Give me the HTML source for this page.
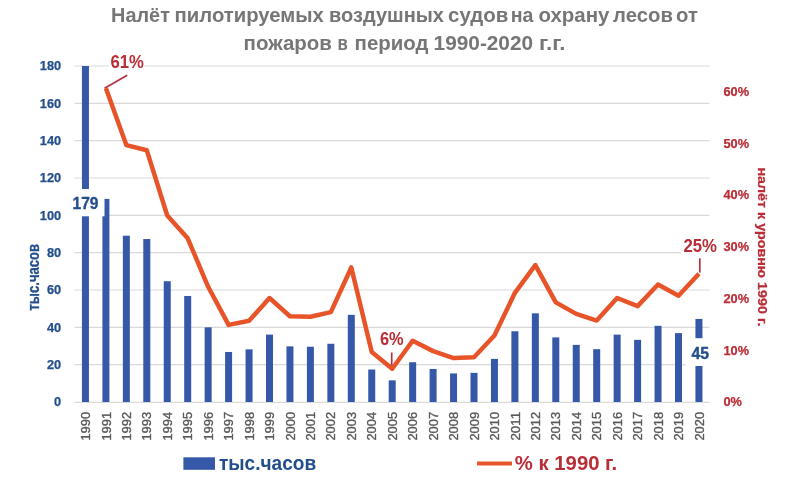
<!DOCTYPE html>
<html><head><meta charset="utf-8">
<style>
html,body{margin:0;padding:0;background:#fff;}
body{width:800px;height:486px;position:relative;overflow:hidden;font-family:"Liberation Sans",sans-serif;}
svg{position:absolute;left:0;top:0;filter:blur(0.4px);font-family:"Liberation Sans",sans-serif;}
</style></head><body>
<svg width="800" height="486" viewBox="0 0 800 486">
<text x="111.10" y="21.80" font-size="19.7" font-weight="bold" fill="#767676" text-anchor="start" textLength="58.80" lengthAdjust="spacingAndGlyphs">Налёт</text>
<text x="174.60" y="21.80" font-size="19.7" font-weight="bold" fill="#767676" text-anchor="start" textLength="149.30" lengthAdjust="spacingAndGlyphs">пилотируемых</text>
<text x="329.10" y="21.80" font-size="19.7" font-weight="bold" fill="#767676" text-anchor="start" textLength="114.80" lengthAdjust="spacingAndGlyphs">воздушных</text>
<text x="448.10" y="21.80" font-size="19.7" font-weight="bold" fill="#767676" text-anchor="start" textLength="60.30" lengthAdjust="spacingAndGlyphs">судов</text>
<text x="510.70" y="21.80" font-size="19.7" font-weight="bold" fill="#767676" text-anchor="start" textLength="22.70" lengthAdjust="spacingAndGlyphs">на</text>
<text x="538.40" y="21.80" font-size="19.7" font-weight="bold" fill="#767676" text-anchor="start" textLength="71.00" lengthAdjust="spacingAndGlyphs">охрану</text>
<text x="613.10" y="21.80" font-size="19.7" font-weight="bold" fill="#767676" text-anchor="start" textLength="59.80" lengthAdjust="spacingAndGlyphs">лесов</text>
<text x="676.10" y="21.80" font-size="19.7" font-weight="bold" fill="#767676" text-anchor="start" textLength="21.80" lengthAdjust="spacingAndGlyphs">от</text>
<text x="243.60" y="50.40" font-size="19.7" font-weight="bold" fill="#767676" text-anchor="start" textLength="88.30" lengthAdjust="spacingAndGlyphs">пожаров</text>
<text x="337.60" y="50.40" font-size="19.7" font-weight="bold" fill="#767676" text-anchor="start" textLength="10.30" lengthAdjust="spacingAndGlyphs">в</text>
<text x="354.60" y="50.40" font-size="19.7" font-weight="bold" fill="#767676" text-anchor="start" textLength="73.80" lengthAdjust="spacingAndGlyphs">период</text>
<text x="433.60" y="50.40" font-size="19.7" font-weight="bold" fill="#767676" text-anchor="start" textLength="99.50" lengthAdjust="spacingAndGlyphs">1990-2020</text>
<text x="538.90" y="50.40" font-size="19.7" font-weight="bold" fill="#767676" text-anchor="start" textLength="26.50" lengthAdjust="spacingAndGlyphs">г.г.</text>
<line x1="74.5" x2="709.5" y1="364.67" y2="364.67" stroke="#D9D9D9" stroke-width="1.2"/>
<line x1="74.5" x2="709.5" y1="327.33" y2="327.33" stroke="#D9D9D9" stroke-width="1.2"/>
<line x1="74.5" x2="709.5" y1="290.00" y2="290.00" stroke="#D9D9D9" stroke-width="1.2"/>
<line x1="74.5" x2="709.5" y1="252.67" y2="252.67" stroke="#D9D9D9" stroke-width="1.2"/>
<line x1="74.5" x2="709.5" y1="215.33" y2="215.33" stroke="#D9D9D9" stroke-width="1.2"/>
<line x1="74.5" x2="709.5" y1="178.00" y2="178.00" stroke="#D9D9D9" stroke-width="1.2"/>
<line x1="74.5" x2="709.5" y1="140.67" y2="140.67" stroke="#D9D9D9" stroke-width="1.2"/>
<line x1="74.5" x2="709.5" y1="103.33" y2="103.33" stroke="#D9D9D9" stroke-width="1.2"/>
<line x1="74.5" x2="709.5" y1="66.00" y2="66.00" stroke="#D9D9D9" stroke-width="1.2"/>
<line x1="74.5" x2="709.5" y1="402.30" y2="402.30" stroke="#D9D9D9" stroke-width="1.2"/>
<rect x="81.95" y="66.00" width="7.0" height="336.00" fill="#3558A8"/>
<rect x="102.40" y="198.91" width="7.0" height="203.09" fill="#3558A8"/>
<rect x="122.85" y="235.68" width="7.0" height="166.32" fill="#3558A8"/>
<rect x="143.30" y="239.04" width="7.0" height="162.96" fill="#3558A8"/>
<rect x="163.75" y="281.23" width="7.0" height="120.77" fill="#3558A8"/>
<rect x="184.20" y="295.97" width="7.0" height="106.03" fill="#3558A8"/>
<rect x="204.65" y="327.33" width="7.0" height="74.67" fill="#3558A8"/>
<rect x="225.10" y="351.97" width="7.0" height="50.03" fill="#3558A8"/>
<rect x="245.55" y="349.36" width="7.0" height="52.64" fill="#3558A8"/>
<rect x="266.00" y="334.61" width="7.0" height="67.39" fill="#3558A8"/>
<rect x="286.45" y="346.37" width="7.0" height="55.63" fill="#3558A8"/>
<rect x="306.90" y="346.75" width="7.0" height="55.25" fill="#3558A8"/>
<rect x="327.35" y="343.76" width="7.0" height="58.24" fill="#3558A8"/>
<rect x="347.80" y="314.83" width="7.0" height="87.17" fill="#3558A8"/>
<rect x="368.25" y="369.52" width="7.0" height="32.48" fill="#3558A8"/>
<rect x="388.70" y="380.35" width="7.0" height="21.65" fill="#3558A8"/>
<rect x="409.15" y="362.24" width="7.0" height="39.76" fill="#3558A8"/>
<rect x="429.60" y="368.96" width="7.0" height="33.04" fill="#3558A8"/>
<rect x="450.05" y="373.44" width="7.0" height="28.56" fill="#3558A8"/>
<rect x="470.50" y="372.88" width="7.0" height="29.12" fill="#3558A8"/>
<rect x="490.95" y="358.88" width="7.0" height="43.12" fill="#3558A8"/>
<rect x="511.40" y="331.25" width="7.0" height="70.75" fill="#3558A8"/>
<rect x="531.85" y="313.33" width="7.0" height="88.67" fill="#3558A8"/>
<rect x="552.30" y="337.41" width="7.0" height="64.59" fill="#3558A8"/>
<rect x="572.75" y="344.88" width="7.0" height="57.12" fill="#3558A8"/>
<rect x="593.20" y="349.17" width="7.0" height="52.83" fill="#3558A8"/>
<rect x="613.65" y="334.61" width="7.0" height="67.39" fill="#3558A8"/>
<rect x="634.10" y="339.84" width="7.0" height="62.16" fill="#3558A8"/>
<rect x="654.55" y="325.84" width="7.0" height="76.16" fill="#3558A8"/>
<rect x="675.00" y="333.12" width="7.0" height="68.88" fill="#3558A8"/>
<rect x="695.45" y="318.93" width="7.0" height="83.07" fill="#3558A8"/>
<line x1="104.6" y1="88.2" x2="127.2" y2="75.2" stroke="#B0343F" stroke-width="1.7"/>
<line x1="391.7" y1="352.5" x2="391.7" y2="368" stroke="#B0343F" stroke-width="1.7"/>
<line x1="699.8" y1="258.3" x2="699.8" y2="272.5" stroke="#B0343F" stroke-width="1.7"/>
<polyline points="105.90,88.26 126.35,145.10 146.80,150.30 167.25,215.51 187.70,238.31 208.15,286.78 228.60,324.87 249.05,320.83 269.50,298.03 289.95,316.21 310.40,316.79 330.85,312.17 351.30,267.45 371.75,351.99 392.20,368.73 412.65,340.74 433.10,351.13 453.55,358.05 474.00,357.19 494.45,335.55 514.90,292.84 535.35,265.14 555.80,302.36 576.25,313.90 596.70,320.54 617.15,298.03 637.60,306.11 658.05,284.47 678.50,295.73 698.95,273.80" fill="none" stroke="#E8542A" stroke-width="4.5" stroke-linejoin="round" stroke-linecap="butt"/>
<text x="61.20" y="406.20" font-size="12.8" font-weight="bold" fill="#234E8C" text-anchor="end" stroke="#234E8C" stroke-width="0.25">0</text>
<text x="61.20" y="368.87" font-size="12.8" font-weight="bold" fill="#234E8C" text-anchor="end" stroke="#234E8C" stroke-width="0.25">20</text>
<text x="61.20" y="331.53" font-size="12.8" font-weight="bold" fill="#234E8C" text-anchor="end" stroke="#234E8C" stroke-width="0.25">40</text>
<text x="61.20" y="294.20" font-size="12.8" font-weight="bold" fill="#234E8C" text-anchor="end" stroke="#234E8C" stroke-width="0.25">60</text>
<text x="61.20" y="256.87" font-size="12.8" font-weight="bold" fill="#234E8C" text-anchor="end" stroke="#234E8C" stroke-width="0.25">80</text>
<text x="61.20" y="219.53" font-size="12.8" font-weight="bold" fill="#234E8C" text-anchor="end" stroke="#234E8C" stroke-width="0.25">100</text>
<text x="61.20" y="182.20" font-size="12.8" font-weight="bold" fill="#234E8C" text-anchor="end" stroke="#234E8C" stroke-width="0.25">120</text>
<text x="61.20" y="144.87" font-size="12.8" font-weight="bold" fill="#234E8C" text-anchor="end" stroke="#234E8C" stroke-width="0.25">140</text>
<text x="61.20" y="107.53" font-size="12.8" font-weight="bold" fill="#234E8C" text-anchor="end" stroke="#234E8C" stroke-width="0.25">160</text>
<text x="61.20" y="70.20" font-size="12.8" font-weight="bold" fill="#234E8C" text-anchor="end" stroke="#234E8C" stroke-width="0.25">180</text>
<text x="723.50" y="406.40" font-size="12.8" font-weight="bold" fill="#B92D36" text-anchor="start" stroke="#B92D36" stroke-width="0.25">0%</text>
<text x="723.50" y="354.63" font-size="12.8" font-weight="bold" fill="#B92D36" text-anchor="start" stroke="#B92D36" stroke-width="0.25">10%</text>
<text x="723.50" y="302.86" font-size="12.8" font-weight="bold" fill="#B92D36" text-anchor="start" stroke="#B92D36" stroke-width="0.25">20%</text>
<text x="723.50" y="251.09" font-size="12.8" font-weight="bold" fill="#B92D36" text-anchor="start" stroke="#B92D36" stroke-width="0.25">30%</text>
<text x="723.50" y="199.32" font-size="12.8" font-weight="bold" fill="#B92D36" text-anchor="start" stroke="#B92D36" stroke-width="0.25">40%</text>
<text x="723.50" y="147.55" font-size="12.8" font-weight="bold" fill="#B92D36" text-anchor="start" stroke="#B92D36" stroke-width="0.25">50%</text>
<text x="723.50" y="95.78" font-size="12.8" font-weight="bold" fill="#B92D36" text-anchor="start" stroke="#B92D36" stroke-width="0.25">60%</text>
<text transform="translate(90.05,411.80) rotate(-90)" x="0" y="0" font-size="12.8" fill="#595959" text-anchor="end" textLength="28.80" lengthAdjust="spacingAndGlyphs" stroke="#595959" stroke-width="0.35">1990</text>
<text transform="translate(110.50,411.80) rotate(-90)" x="0" y="0" font-size="12.8" fill="#595959" text-anchor="end" textLength="28.80" lengthAdjust="spacingAndGlyphs" stroke="#595959" stroke-width="0.35">1991</text>
<text transform="translate(130.95,411.80) rotate(-90)" x="0" y="0" font-size="12.8" fill="#595959" text-anchor="end" textLength="28.80" lengthAdjust="spacingAndGlyphs" stroke="#595959" stroke-width="0.35">1992</text>
<text transform="translate(151.40,411.80) rotate(-90)" x="0" y="0" font-size="12.8" fill="#595959" text-anchor="end" textLength="28.80" lengthAdjust="spacingAndGlyphs" stroke="#595959" stroke-width="0.35">1993</text>
<text transform="translate(171.85,411.80) rotate(-90)" x="0" y="0" font-size="12.8" fill="#595959" text-anchor="end" textLength="28.80" lengthAdjust="spacingAndGlyphs" stroke="#595959" stroke-width="0.35">1994</text>
<text transform="translate(192.30,411.80) rotate(-90)" x="0" y="0" font-size="12.8" fill="#595959" text-anchor="end" textLength="28.80" lengthAdjust="spacingAndGlyphs" stroke="#595959" stroke-width="0.35">1995</text>
<text transform="translate(212.75,411.80) rotate(-90)" x="0" y="0" font-size="12.8" fill="#595959" text-anchor="end" textLength="28.80" lengthAdjust="spacingAndGlyphs" stroke="#595959" stroke-width="0.35">1996</text>
<text transform="translate(233.20,411.80) rotate(-90)" x="0" y="0" font-size="12.8" fill="#595959" text-anchor="end" textLength="28.80" lengthAdjust="spacingAndGlyphs" stroke="#595959" stroke-width="0.35">1997</text>
<text transform="translate(253.65,411.80) rotate(-90)" x="0" y="0" font-size="12.8" fill="#595959" text-anchor="end" textLength="28.80" lengthAdjust="spacingAndGlyphs" stroke="#595959" stroke-width="0.35">1998</text>
<text transform="translate(274.10,411.80) rotate(-90)" x="0" y="0" font-size="12.8" fill="#595959" text-anchor="end" textLength="28.80" lengthAdjust="spacingAndGlyphs" stroke="#595959" stroke-width="0.35">1999</text>
<text transform="translate(294.55,411.80) rotate(-90)" x="0" y="0" font-size="12.8" fill="#595959" text-anchor="end" textLength="28.80" lengthAdjust="spacingAndGlyphs" stroke="#595959" stroke-width="0.35">2000</text>
<text transform="translate(315.00,411.80) rotate(-90)" x="0" y="0" font-size="12.8" fill="#595959" text-anchor="end" textLength="28.80" lengthAdjust="spacingAndGlyphs" stroke="#595959" stroke-width="0.35">2001</text>
<text transform="translate(335.45,411.80) rotate(-90)" x="0" y="0" font-size="12.8" fill="#595959" text-anchor="end" textLength="28.80" lengthAdjust="spacingAndGlyphs" stroke="#595959" stroke-width="0.35">2002</text>
<text transform="translate(355.90,411.80) rotate(-90)" x="0" y="0" font-size="12.8" fill="#595959" text-anchor="end" textLength="28.80" lengthAdjust="spacingAndGlyphs" stroke="#595959" stroke-width="0.35">2003</text>
<text transform="translate(376.35,411.80) rotate(-90)" x="0" y="0" font-size="12.8" fill="#595959" text-anchor="end" textLength="28.80" lengthAdjust="spacingAndGlyphs" stroke="#595959" stroke-width="0.35">2004</text>
<text transform="translate(396.80,411.80) rotate(-90)" x="0" y="0" font-size="12.8" fill="#595959" text-anchor="end" textLength="28.80" lengthAdjust="spacingAndGlyphs" stroke="#595959" stroke-width="0.35">2005</text>
<text transform="translate(417.25,411.80) rotate(-90)" x="0" y="0" font-size="12.8" fill="#595959" text-anchor="end" textLength="28.80" lengthAdjust="spacingAndGlyphs" stroke="#595959" stroke-width="0.35">2006</text>
<text transform="translate(437.70,411.80) rotate(-90)" x="0" y="0" font-size="12.8" fill="#595959" text-anchor="end" textLength="28.80" lengthAdjust="spacingAndGlyphs" stroke="#595959" stroke-width="0.35">2007</text>
<text transform="translate(458.15,411.80) rotate(-90)" x="0" y="0" font-size="12.8" fill="#595959" text-anchor="end" textLength="28.80" lengthAdjust="spacingAndGlyphs" stroke="#595959" stroke-width="0.35">2008</text>
<text transform="translate(478.60,411.80) rotate(-90)" x="0" y="0" font-size="12.8" fill="#595959" text-anchor="end" textLength="28.80" lengthAdjust="spacingAndGlyphs" stroke="#595959" stroke-width="0.35">2009</text>
<text transform="translate(499.05,411.80) rotate(-90)" x="0" y="0" font-size="12.8" fill="#595959" text-anchor="end" textLength="28.80" lengthAdjust="spacingAndGlyphs" stroke="#595959" stroke-width="0.35">2010</text>
<text transform="translate(519.50,411.80) rotate(-90)" x="0" y="0" font-size="12.8" fill="#595959" text-anchor="end" textLength="28.80" lengthAdjust="spacingAndGlyphs" stroke="#595959" stroke-width="0.35">2011</text>
<text transform="translate(539.95,411.80) rotate(-90)" x="0" y="0" font-size="12.8" fill="#595959" text-anchor="end" textLength="28.80" lengthAdjust="spacingAndGlyphs" stroke="#595959" stroke-width="0.35">2012</text>
<text transform="translate(560.40,411.80) rotate(-90)" x="0" y="0" font-size="12.8" fill="#595959" text-anchor="end" textLength="28.80" lengthAdjust="spacingAndGlyphs" stroke="#595959" stroke-width="0.35">2013</text>
<text transform="translate(580.85,411.80) rotate(-90)" x="0" y="0" font-size="12.8" fill="#595959" text-anchor="end" textLength="28.80" lengthAdjust="spacingAndGlyphs" stroke="#595959" stroke-width="0.35">2014</text>
<text transform="translate(601.30,411.80) rotate(-90)" x="0" y="0" font-size="12.8" fill="#595959" text-anchor="end" textLength="28.80" lengthAdjust="spacingAndGlyphs" stroke="#595959" stroke-width="0.35">2015</text>
<text transform="translate(621.75,411.80) rotate(-90)" x="0" y="0" font-size="12.8" fill="#595959" text-anchor="end" textLength="28.80" lengthAdjust="spacingAndGlyphs" stroke="#595959" stroke-width="0.35">2016</text>
<text transform="translate(642.20,411.80) rotate(-90)" x="0" y="0" font-size="12.8" fill="#595959" text-anchor="end" textLength="28.80" lengthAdjust="spacingAndGlyphs" stroke="#595959" stroke-width="0.35">2017</text>
<text transform="translate(662.65,411.80) rotate(-90)" x="0" y="0" font-size="12.8" fill="#595959" text-anchor="end" textLength="28.80" lengthAdjust="spacingAndGlyphs" stroke="#595959" stroke-width="0.35">2018</text>
<text transform="translate(683.10,411.80) rotate(-90)" x="0" y="0" font-size="12.8" fill="#595959" text-anchor="end" textLength="28.80" lengthAdjust="spacingAndGlyphs" stroke="#595959" stroke-width="0.35">2019</text>
<text transform="translate(703.55,411.80) rotate(-90)" x="0" y="0" font-size="12.8" fill="#595959" text-anchor="end" textLength="28.80" lengthAdjust="spacingAndGlyphs" stroke="#595959" stroke-width="0.35">2020</text>
<text transform="translate(38.50,277.20) rotate(-90)" x="0" y="0" font-size="16.5" font-weight="bold" fill="#234E8C" text-anchor="middle" textLength="66.70" lengthAdjust="spacingAndGlyphs" stroke="#234E8C" stroke-width="0.25">тыс.часов</text>
<text transform="translate(757.80,246.90) rotate(90)" x="0" y="0" font-size="13.6" font-weight="bold" fill="#B92D36" text-anchor="middle" textLength="159.00" lengthAdjust="spacingAndGlyphs" stroke="#B92D36" stroke-width="0.25">налёт к уровню 1990 г.</text>
<rect x="183.4" y="457.3" width="31.6" height="12.5" fill="#3558A8"/>
<text x="218.90" y="469.80" font-size="19.5" font-weight="bold" fill="#234E8C" text-anchor="start" textLength="97.30" lengthAdjust="spacingAndGlyphs">тыс.часов</text>
<line x1="477" x2="512" y1="463.4" y2="463.4" stroke="#E8542A" stroke-width="4"/>
<text x="514.80" y="470.40" font-size="21" font-weight="bold" fill="#B92D36" text-anchor="start" textLength="102.40" lengthAdjust="spacingAndGlyphs">% к 1990 г.</text>
<rect x="66.5" y="189" width="38" height="27.3" fill="#fff"/>
<text x="72.60" y="208.90" font-size="16.5" font-weight="bold" fill="#234E8C" text-anchor="start" textLength="25.90" lengthAdjust="spacingAndGlyphs" stroke="#234E8C" stroke-width="0.35">179</text>
<rect x="685.4" y="338.2" width="29.6" height="27.8" fill="#fff"/>
<text x="691.40" y="358.50" font-size="16.5" font-weight="bold" fill="#234E8C" text-anchor="start" textLength="17.60" lengthAdjust="spacingAndGlyphs" stroke="#234E8C" stroke-width="0.35">45</text>
<rect x="108.5" y="52" width="35.6" height="17" fill="#fff"/>
<text x="110.40" y="67.60" font-size="17.5" font-weight="bold" fill="#B92D36" text-anchor="start" textLength="33.40" lengthAdjust="spacingAndGlyphs">61%</text>
<text x="379.90" y="345.00" font-size="17.5" font-weight="bold" fill="#B92D36" text-anchor="start" textLength="23.70" lengthAdjust="spacingAndGlyphs">6%</text>
<rect x="681" y="236" width="36" height="18" fill="#fff"/>
<text x="683.50" y="251.50" font-size="17.5" font-weight="bold" fill="#B92D36" text-anchor="start" textLength="33.50" lengthAdjust="spacingAndGlyphs">25%</text>
</svg>
</body></html>
